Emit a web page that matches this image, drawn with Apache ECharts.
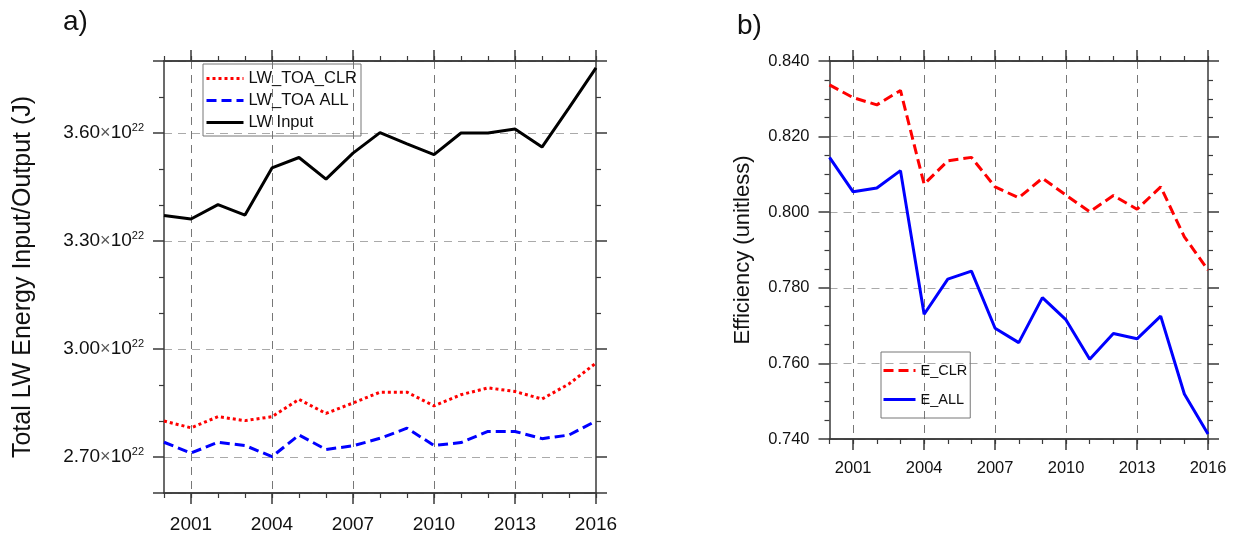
<!DOCTYPE html>
<html><head><meta charset="utf-8">
<script src="https://cdn.jsdelivr.net/npm/echarts@6/dist/echarts.min.js"></script>
<style>html,body{margin:0;padding:0;background:#fff}#c{width:1238px;height:537px}</style>
</head><body><div id="c"></div>
<script>
// ---- data ----
const years = ['2000','2001','2002','2003','2004','2005','2006','2007','2008','2009','2010','2011','2012','2013','2014','2015','2016'];
const majorYears = ['2001','2004','2007','2010','2013','2016'];
// Panel a) values in units of 10^22 J
const lwToaClr = [2.800,2.781,2.812,2.801,2.812,2.860,2.821,2.850,2.880,2.880,2.842,2.873,2.892,2.882,2.861,2.903,2.961];
const lwToaAll = [2.741,2.711,2.741,2.732,2.701,2.761,2.721,2.731,2.752,2.780,2.732,2.740,2.771,2.771,2.751,2.761,2.800];
const lwInput  = [3.371,3.361,3.401,3.372,3.503,3.532,3.472,3.544,3.601,3.570,3.540,3.600,3.600,3.611,3.561,3.670,3.781];
// Panel b) efficiencies
const eClr = [0.8337,0.8303,0.8284,0.8322,0.8074,0.8136,0.8145,0.8067,0.8038,0.8090,0.8045,0.8001,0.8044,0.8008,0.8067,0.7935,0.7847];
const eAll = [0.8145,0.8054,0.8064,0.8110,0.7730,0.7823,0.7844,0.7693,0.7655,0.7774,0.7715,0.7611,0.7679,0.7665,0.7725,0.7519,0.7413];
const leftTickLabels = [2.70, 3.00, 3.30, 3.60];
const rightTickLabels = [0.740, 0.760, 0.780, 0.800, 0.820, 0.840];

// ---- styling ----
const FONT = '"Liberation Sans", Arial, sans-serif';
const AX = '#3a3a3a';
const isMajor = (i) => majorYears.indexOf(years[i]) >= 0;

function xAxes(grid, fs, margin) {
  const base = { type: 'category', data: years, boundaryGap: false, gridIndex: grid,
    axisLine: { show: true, lineStyle: { color: AX, width: 1.5 } } };
  return [
    Object.assign({}, base, { position: 'bottom',
      axisTick: { show: true, inside: false, length: 11, interval: (i) => isMajor(i), lineStyle: { color: AX, width: 1.5 } },
      axisLabel: { show: true, interval: (i) => isMajor(i), fontSize: fs, fontFamily: FONT, color: '#111', margin: margin },
      splitLine: { show: true, interval: (i) => isMajor(i) && years[i] !== '2016', lineStyle: { color: '#777', type: [8, 6], width: 1 } } }),
    Object.assign({}, base, { position: 'bottom',
      axisTick: { show: true, inside: false, length: 5, interval: 0, lineStyle: { color: AX, width: 1.2 } },
      axisLabel: { show: false }, splitLine: { show: false } }),
    Object.assign({}, base, { position: 'top',
      axisTick: { show: true, inside: false, length: 11, interval: (i) => isMajor(i), lineStyle: { color: AX, width: 1.5 } },
      axisLabel: { show: false }, splitLine: { show: false } }),
    Object.assign({}, base, { position: 'top',
      axisTick: { show: true, inside: false, length: 5, interval: 0, lineStyle: { color: AX, width: 1.2 } },
      axisLabel: { show: false }, splitLine: { show: false } })
  ];
}

function near(v, list) { return list.some(t => Math.abs(t - v) < 1e-6); }

const yLeftA = {
  type: 'value', gridIndex: 0, position: 'left', min: 2.6, max: 3.8, splitNumber: 4,
  axisLine: { show: true, lineStyle: { color: AX, width: 1.5 } },
  axisTick: { show: true, inside: false, length: 11, lineStyle: { color: AX, width: 1.5 } },
  minorTick: { show: true, splitNumber: 3, length: 5, lineStyle: { color: AX, width: 1.2 } },
  axisLabel: { margin: 20, fontFamily: FONT, color: '#111',
    formatter: (v) => near(v, leftTickLabels) ? '{a|' + v.toFixed(2) + '}{x|×}{a|10}{b|22}' : '',
    rich: { a: { fontSize: 19, fontFamily: FONT, color: '#111', lineHeight: 22 },
            x: { fontSize: 18, fontFamily: FONT, color: '#555', lineHeight: 22 },
            b: { fontSize: 11, fontFamily: FONT, color: '#111', verticalAlign: 'top', lineHeight: 12 } } },
  splitLine: { show: true, lineStyle: { color: '#aaa', type: [8, 6], width: 1 } },
  name: 'Total LW Energy Input/Output (J)', nameLocation: 'middle', nameGap: 128,
  nameTextStyle: { fontSize: 25, fontFamily: FONT, color: '#111' }
};
const yRightA = {
  type: 'value', gridIndex: 0, position: 'right', min: 2.6, max: 3.8, splitNumber: 4,
  axisLine: { show: true, lineStyle: { color: AX, width: 1.5 } },
  axisTick: { show: true, inside: false, length: 11, lineStyle: { color: AX, width: 1.5 } },
  minorTick: { show: true, splitNumber: 3, length: 5, lineStyle: { color: AX, width: 1.2 } },
  axisLabel: { show: false }, splitLine: { show: false }
};
const yLeftB = {
  type: 'value', gridIndex: 1, position: 'left', min: 0.74, max: 0.84, interval: 0.02,
  axisLine: { show: true, lineStyle: { color: AX, width: 1.5 } },
  axisTick: { show: true, inside: false, length: 11, lineStyle: { color: AX, width: 1.5 } },
  minorTick: { show: true, splitNumber: 4, length: 5, lineStyle: { color: AX, width: 1.2 } },
  axisLabel: { margin: 20, fontSize: 16.5, fontFamily: FONT, color: '#111',
    formatter: (v) => near(v, rightTickLabels) ? v.toFixed(3) : '' },
  splitLine: { show: true, lineStyle: { color: '#aaa', type: [8, 6], width: 1 } },
  name: 'Efficiency (unitless)', nameLocation: 'middle', nameGap: 76,
  nameTextStyle: { fontSize: 22, fontFamily: FONT, color: '#111' }
};
const yRightB = {
  type: 'value', gridIndex: 1, position: 'right', min: 0.74, max: 0.84, interval: 0.02,
  axisLine: { show: true, lineStyle: { color: AX, width: 1.5 } },
  axisTick: { show: true, inside: false, length: 11, lineStyle: { color: AX, width: 1.5 } },
  minorTick: { show: true, splitNumber: 4, length: 5, lineStyle: { color: AX, width: 1.2 } },
  axisLabel: { show: false }, splitLine: { show: false }
};

const lineSeries = (name, data, xi, yi, color, type, width) => ({
  name: name, type: 'line', data: data, xAxisIndex: xi, yAxisIndex: yi,
  symbol: 'none', showSymbol: false, smooth: false,
  lineStyle: { color: color, width: width, type: type }, itemStyle: { color: color }, z: 5
});

const option = {
  animation: false,
  backgroundColor: '#fff',
  textStyle: { fontFamily: FONT },
  title: [
    { text: 'a)', left: 63, top: 8, padding: 0, textStyle: { fontSize: 28, fontWeight: 'normal', fontFamily: FONT, color: '#111' } },
    { text: 'b)', left: 737, top: 12, padding: 0, textStyle: { fontSize: 28, fontWeight: 'normal', fontFamily: FONT, color: '#111' } }
  ],
  grid: [
    { left: 164, right: 642, top: 61, bottom: 44, containLabel: false },
    { left: 829.5, right: 30, top: 61, bottom: 98, containLabel: false }
  ],
  legend: [
    { data: ['LW_TOA_CLR', 'LW_TOA ALL', 'LW Input'], orient: 'vertical', left: 203, top: 64,
      itemWidth: 37, itemHeight: 2, itemGap: 5, padding: [6, 4, 5, 2],
      itemStyle: { opacity: 0 }, lineStyle: { width: 3 },
      borderColor: '#777', borderWidth: 1, borderRadius: 0,
      textStyle: { fontSize: 16.5, fontFamily: FONT, color: '#111', lineHeight: 16 } },
    { data: ['E_CLR', 'E_ALL'], orient: 'vertical', left: 881, top: 352,
      itemWidth: 32, itemHeight: 2, itemGap: 14, padding: [11, 3, 11, 1],
      itemStyle: { opacity: 0 }, lineStyle: { width: 3 },
      borderColor: '#777', borderWidth: 1, borderRadius: 0,
      textStyle: { fontSize: 14.5, fontFamily: FONT, color: '#111', lineHeight: 14 } }
  ],
  xAxis: xAxes(0, 19, 22).concat(xAxes(1, 16.5, 21)),
  yAxis: [yLeftA, yRightA, yLeftB, yRightB],
  series: [
    lineSeries('LW_TOA_CLR', lwToaClr, 0, 0, '#ff0000', [3, 3], 3),
    lineSeries('LW_TOA ALL', lwToaAll, 0, 0, '#0000ff', [10, 5], 3),
    lineSeries('LW Input', lwInput, 0, 0, '#000000', 'solid', 3),
    lineSeries('E_CLR', eClr, 4, 2, '#ff0000', [10, 5], 3),
    lineSeries('E_ALL', eAll, 4, 2, '#0000ff', 'solid', 3)
  ]
};
const chart = echarts.init(document.getElementById('c'), null, { renderer: 'canvas' });
chart.setOption(option);
</script>
</body></html>
